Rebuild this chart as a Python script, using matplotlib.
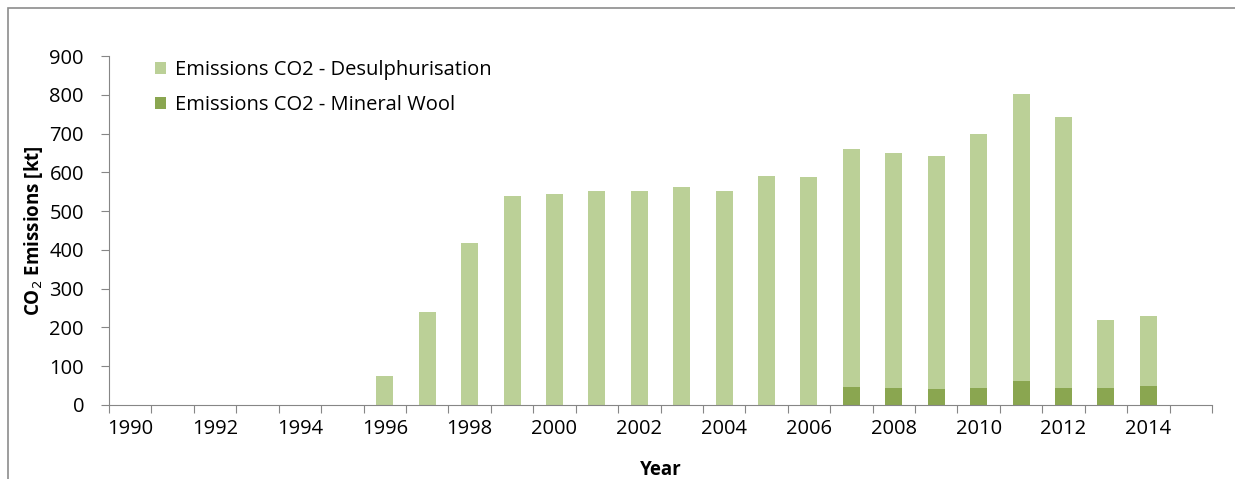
import matplotlib.pyplot as plt
import matplotlib.patches as patches
import numpy as np

years = list(range(1990, 2016))
# values, kt
desulph = [0, 0, 0, 0, 0, 0, 76, 240, 418, 540, 543, 553, 553, 563, 553,
           590, 588, 615, 607, 601, 655, 741, 699, 175, 181, 0]
mineral_wool = [0, 0, 0, 0, 0, 0, 0, 0, 0, 0, 0, 0, 0, 0, 0,
                0, 0, 46, 43, 40, 43, 61, 43, 43, 48, 0]
year_labels = [str(y) for y in range(1990, 2016, 2)]

light = '#BBD097'
dark = '#8AA650'
axis_col = '#868686'
fs = 14.5

plt.rcParams['font.family'] = ['Open Sans', 'DejaVu Sans']

fig = plt.figure(figsize=(12.35, 4.79), dpi=100)
ax = fig.add_axes([109 / 1235, 1 - 405 / 479, 1103 / 1235, 349 / 479])

x = np.arange(len(years))
ax.bar(x, mineral_wool, width=0.4, color=dark, label='Emissions CO2 - Mineral Wool')
ax.bar(x, desulph, width=0.4, bottom=mineral_wool, color=light,
       label='Emissions CO2 - Desulphurisation')

ax.set_xlim(-0.5, len(years) - 0.5)
ax.set_ylim(0, 900)
ax.set_yticks(range(0, 901, 100))

# category axis: tick marks between categories, labels on every other one
ax.set_xticks(np.arange(-0.5, len(years), 1.0))
ax.set_xticklabels([])
ax.set_xticks(np.arange(0, len(years), 2), minor=True)
ax.set_xticklabels(year_labels, minor=True)
ax.tick_params(axis='x', which='minor', length=0, pad=10, labelsize=fs)
ax.tick_params(axis='x', which='major', length=6, color=axis_col, direction='out')
ax.tick_params(axis='y', length=6, color=axis_col, labelsize=fs, pad=12)

for s in ['top', 'right']:
    ax.spines[s].set_visible(False)
for s in ['left', 'bottom']:
    ax.spines[s].set_color(axis_col)

ax.set_xlabel('Year', fontsize=fs - 1, fontweight='bold', labelpad=15)
ax.set_ylabel('CO$_2$ Emissions [kt]', fontsize=fs - 1, fontweight='bold', labelpad=3)

handles, labels = ax.get_legend_handles_labels()
ax.legend(handles[::-1], labels[::-1], loc='upper left', bbox_to_anchor=(0.025, 1.04),
          frameon=False, fontsize=fs, handlelength=0.55, handleheight=0.55,
          handletextpad=0.45, labelspacing=0.75)

# chart area border
fig.patches.append(patches.Rectangle((8 / 1235, -0.1), 1.2, 1 - 8 / 479 + 0.1,
                                     transform=fig.transFigure, fill=False,
                                     edgecolor='#8c8c8c', linewidth=1.2))

fig.savefig('out.png', dpi=100)
